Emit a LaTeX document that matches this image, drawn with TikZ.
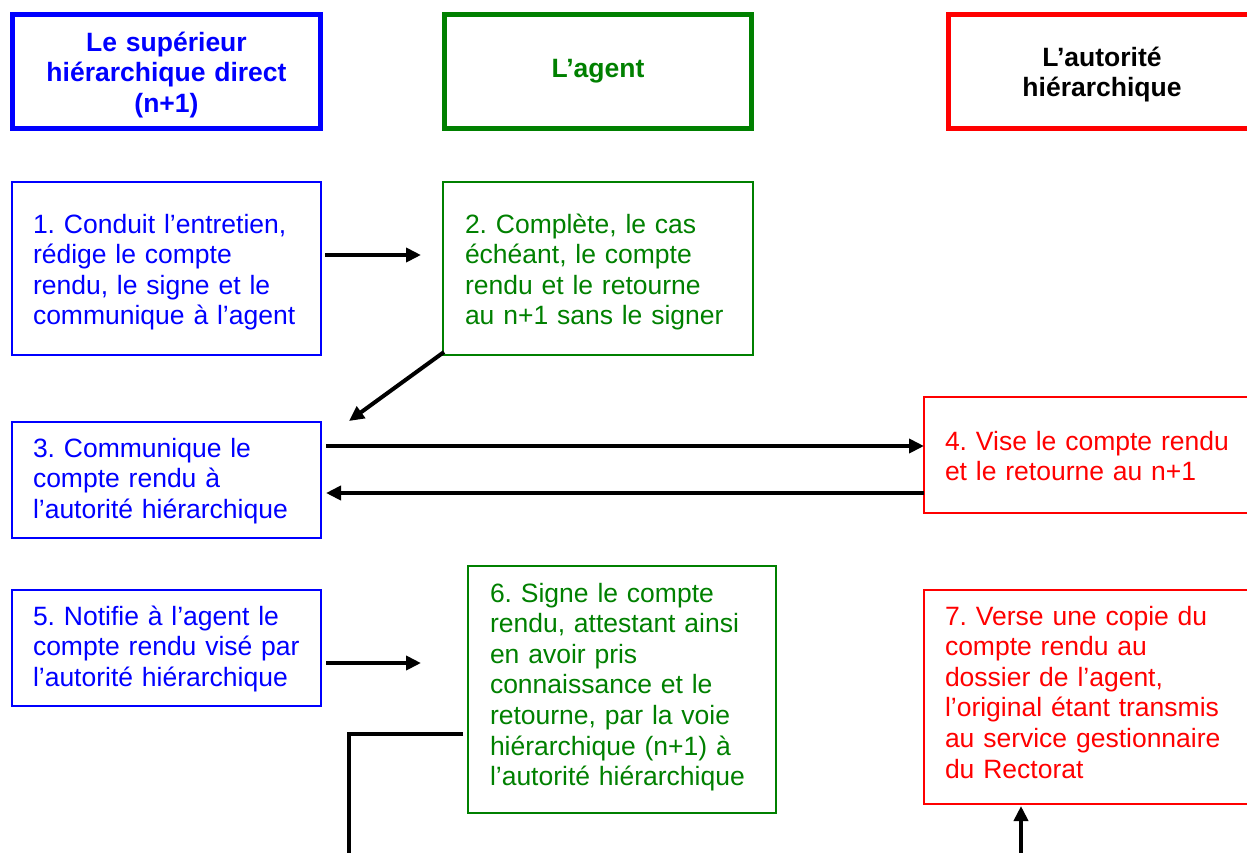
\documentclass[tikz,border=0pt]{standalone}
\usepackage{fontspec}
\setmainfont{Liberation Sans}
\usepackage{xcolor}
\usetikzlibrary{positioning,calc,arrows.meta}
\definecolor{bleu}{RGB}{0,0,255}
\definecolor{vert}{RGB}{0,128,0}
\definecolor{rouge}{RGB}{255,0,0}
\frenchspacing

\begin{document}
\begin{tikzpicture}[x=1pt,y=-1pt,
    tete/.style={draw,line width=5pt,outer sep=0pt,align=center,text width=290pt,
      minimum height=114pt,font=\fontsize{26.5}{30.5}\selectfont\bfseries},
    etape/.style={draw,line width=2pt,outer sep=0pt,inner xsep=21pt,align=left,
      anchor=north west,font=\fontsize{26.5}{30.6}\selectfont},
    lignes/.style 2 args={execute at begin node={\rule{0pt}{#1pt}},
      execute at end node={\rule[-#2pt]{0pt}{0pt}}},
    fleche/.style={line width=4pt,-{Triangle[length=15pt,width=14pt]}},
    trait/.style={line width=4pt}]
  \path[use as bounding box,clip] (0,0) rectangle (1247,852);
  % en-tetes des colonnes
  \node[tete,bleu,lignes={25.5}{5},minimum width=308pt] (sup) at (166.5,71.5) {Le supérieur\\hiérarchique direct\\(n+1)};
  \node[tete,vert,minimum width=307pt] (agent) at (598,71.5) {L’agent};
  \node[tete,draw=rouge,text=black,lignes={25.5}{5},minimum width=308pt] (autorite) at (1102,71.5) {L’autorité\\hiérarchique};
  % etapes
  \node[etape,bleu,lignes={28.8}{8},text width=267pt,minimum height=173pt] (etape1) at (12,182)
    {1. Conduit l’entretien,\\rédige le compte\\rendu, le signe et le\\communique à l’agent};
  \node[etape,vert,lignes={28.8}{8},inner xsep=22pt,text width=266pt,minimum height=173pt] (etape2) at (443,182)
    {2. Complète, le cas\\échéant, le compte\\rendu et le retourne\\au n+1 sans le signer};
  \node[etape,bleu,lignes={23.2}{8},text width=267pt,minimum height=116pt] (etape3) at (12,422)
    {3. Communique le\\compte rendu à\\l’autorité hiérarchique};
  \node[etape,rouge,lignes={28.6}{8},text width=294pt,minimum height=116pt] (etape4) at (924,397)
    {4. Vise le compte rendu\\et le retourne au n+1};
  \node[etape,bleu,lignes={23.2}{8},text width=267pt,minimum height=116pt] (etape5) at (12,590)
    {5. Notifie à l’agent le\\compte rendu visé par\\l’autorité hiérarchique};
  \node[etape,vert,lignes={20.6}{12},inner xsep=22pt,text width=264pt,minimum height=247pt] (etape6) at (468,566)
    {6. Signe le compte\\rendu, attestant ainsi\\en avoir pris\\connaissance et le\\retourne, par la voie\\hiérarchique (n+1) à\\l’autorité hiérarchique};
  \node[etape,rouge,lignes={21}{12},text width=294pt,minimum height=214pt] (etape7) at (924,590)
    {7. Verse une copie du\\compte rendu au\\dossier de l’agent,\\l’original étant transmis\\au service gestionnaire\\du Rectorat};
  % fleches
  \draw[fleche] ($(etape1.east)+(4,-13.5)$) -- ($(etape2.west)+(-22,-13.5)$);
  \draw[fleche] ($(etape2.south west)+(1,-3)$) -- ($(etape3.north east)+(28,-1)$);
  \draw[fleche] ($(etape3.east)+(5,-34)$) -- ($(etape4.west)+(0,-9)$);
  \draw[fleche] ($(etape4.west)+(0,38)$) -- ($(etape3.east)+(5,13)$);
  \draw[fleche] ($(etape5.east)+(5,15)$) -- ($(etape6.west)+(-47,-26.5)$);
  \coordinate (bas6) at (349,870);
  \coordinate (bas7) at (1021,870);
  \draw[trait] ($(etape6.west)+(-5,44.5)$) -| (bas6);
  \draw[fleche] (bas7) -- ($(etape7.south west)+(97,2)$);
\end{tikzpicture}
\end{document}
